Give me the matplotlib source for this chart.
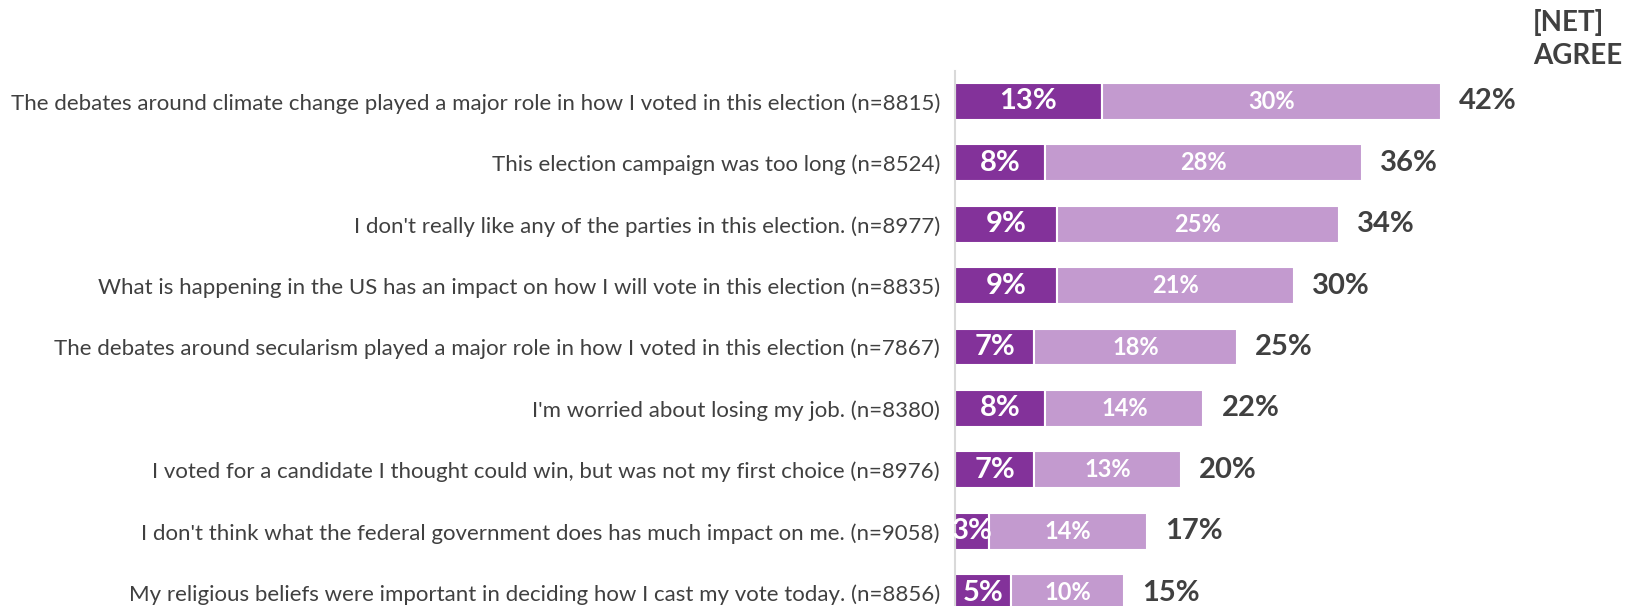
import numpy as np
import matplotlib.pyplot as plt

# %% data
statements = [
    "The debates around climate change played a major role in how I voted in this election (n=8815)",
    "This election campaign was too long (n=8524)",
    "I don't really like any of the parties in this election. (n=8977)",
    "What is happening in the US has an impact on how I will vote in this election (n=8835)",
    "The debates around secularism played a major role in how I voted in this election (n=7867)",
    "I'm worried about losing my job. (n=8380)",
    "I voted for a candidate I thought could win, but was not my first choice (n=8976)",
    "I don't think what the federal government does has much impact on me. (n=9058)",
    "My religious beliefs were important in deciding how I cast my vote today. (n=8856)",
]
strongly_agree = [13, 8, 9, 9, 7, 8, 7, 3, 5]
somewhat_agree = [30, 28, 25, 21, 18, 14, 13, 14, 10]
net_agree = [42, 36, 34, 30, 25, 22, 20, 17, 15]

dark = "#83329A"
light = "#C39ACF"
grey = "#404040"

# %% plot
plt.rcParams["font.family"] = ["Lato", "DejaVu Sans"]
fig = plt.figure(figsize=(16.28, 6.06), dpi=100)
ax = fig.add_axes([955 / 1628, 0, 673 / 1628, 1 - 70.6 / 606])

y = np.arange(len(statements))
ax.barh(y, strongly_agree, height=0.6, color=dark, edgecolor="white", linewidth=1.5)
ax.barh(y, somewhat_agree, left=strongly_agree, height=0.6, color=light, edgecolor="white", linewidth=1.5)

for i in range(len(statements)):
    ax.text(strongly_agree[i] / 2, i, f"{strongly_agree[i]}%", ha="center", va="center",
            color="white", fontsize=21, fontweight="bold")
    ax.text(strongly_agree[i] + somewhat_agree[i] / 2, i, f"{somewhat_agree[i]}%", ha="center",
            va="center", color="white", fontsize=17, fontweight="bold")
    ax.text(strongly_agree[i] + somewhat_agree[i] + 1.6, i, f"{net_agree[i]}%", ha="left",
            va="center", color=grey, fontsize=21, fontweight="bold")

ax.set_xlim(0, 59.6)
ax.set_ylim(8.217, -0.503)
ax.set_yticks(y)
ax.set_yticklabels(statements, fontsize=16, color=grey)
ax.tick_params(axis="y", length=0, pad=10.8)
ax.set_xticks([])
for s in ["top", "right", "bottom"]:
    ax.spines[s].set_visible(False)
ax.spines["left"].set_color("#D9D9D9")
ax.spines["left"].set_linewidth(1.5)

fig.text(1533 / 1628, 1 - 9 / 606, "[NET]\nAGREE", ha="left", va="top", fontsize=20,
         fontweight="bold", color=grey, linespacing=1.35, multialignment="left")

plt.savefig("out.png", dpi=100)
plt.close()
